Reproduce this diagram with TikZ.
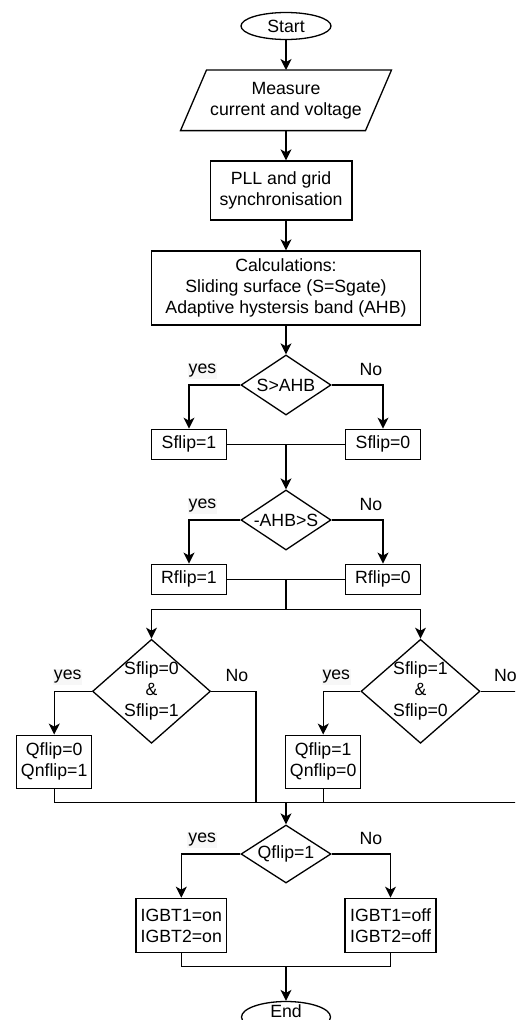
\documentclass[tikz,border=0pt]{standalone}
\usepackage{fontspec}
\setmainfont{Liberation Sans}
\usetikzlibrary{shapes.geometric,arrows.meta}

\begin{document}
\begin{tikzpicture}[x=1pt,y=-1pt,line width=1.3pt,
  font=\fontsize{17.7}{21}\selectfont,
  box/.style={draw, rectangle, inner sep=0pt, align=center},
  term/.style={draw, ellipse, inner sep=0pt, minimum width=90pt, minimum height=27pt},
  dia/.style={draw, diamond, inner sep=0pt},
  arr/.style={-{Stealth[length=11pt,width=11pt,inset=3pt]}},
  yeslbl/.style={fill=black!3, inner sep=1pt},
  nolbl/.style={inner sep=1pt}
]
\useasboundingbox (0,0) rectangle (515,1020);
\clip (0,0) rectangle (515,1020);

% main column
\node[term] (start) at (286,26) {Start};
\node[inner sep=0pt, minimum width=183.7pt, minimum height=59.3pt, align=center]
  (meas) at (286,100.3) {Measure\\current and voltage};
\draw ([xshift=-13pt]meas.south west) -- ([xshift=13pt]meas.north west)
   -- ([xshift=13pt]meas.north east) -- ([xshift=-13pt]meas.south east) -- cycle;
\node[box, minimum width=141.7pt, minimum height=59pt] (pll) at (281,190.5)
  {PLL and grid\\synchronisation};
\node[box, minimum width=269pt, minimum height=74pt] (calc) at (286,288)
  {Calculations:\\Sliding surface (S=Sgate)\\Adaptive hystersis band (AHB)};

% first decision
\node[dia, minimum width=90pt, minimum height=60pt, label=center:{S>AHB}] (d1) at (286,385) {};
\node[box, minimum width=75pt, minimum height=30pt] (sf1) at (189,444.3) {Sflip=1};
\node[box, minimum width=75pt, minimum height=30pt] (sf0) at (383,444.3) {Sflip=0};

% second decision
\node[dia, minimum width=90pt, minimum height=60pt, label=center:{-AHB>S}] (d2) at (286,520) {};
\node[box, minimum width=75pt, minimum height=30pt] (rf1) at (189,579.2) {Rflip=1};
\node[box, minimum width=75pt, minimum height=30pt] (rf0) at (383,579.2) {Rflip=0};

% flip-state decisions
\node[dia, minimum width=118pt, minimum height=104pt,
  label={[align=center]center:Sflip=0\\\&\\Sflip=1}] (d3) at (151.5,691.3) {};
\node[dia, minimum width=119pt, minimum height=104pt,
  label={[align=center]center:Sflip=1\\\&\\Sflip=0}] (d4) at (420.5,691.3) {};
\node[box, minimum width=75pt, minimum height=53pt] (q1) at (54.2,761.7) {Qflip=0\\Qnflip=1};
\node[box, minimum width=75pt, minimum height=53pt] (q2) at (323.2,761.7) {Qflip=1\\Qnflip=0};

% switching decision
\node[dia, minimum width=90pt, minimum height=58pt, label=center:{Qflip=1}] (d5) at (286,854) {};
\node[box, minimum width=90.7pt, minimum height=54.4pt] (on) at (181.3,925.5) {IGBT1=on\\IGBT2=on};
\node[box, minimum width=91pt, minimum height=54.4pt] (off) at (390.5,925.5) {IGBT1=off\\IGBT2=off};
\node[term, minimum width=89pt, minimum height=31pt,
  label={[yshift=6pt]center:End}] (end) at (286,1017) {};

% branch labels
\node[yeslbl] (y1) at (202.5,371) {yes};
\node[nolbl] (n1) at (371,369.5) {No};
\node[yeslbl] (y2) at (202.5,506) {yes};
\node[nolbl] (n2) at (371,504.5) {No};
\node[yeslbl] (y3) at (67.7,677) {yes};
\node[nolbl] (n3) at (237,675.5) {No};
\node[yeslbl] (y4) at (336.3,677) {yes};
\node[nolbl] (n4) at (505.5,675.5) {No};
\node[yeslbl] (y5) at (202.2,840) {yes};
\node[nolbl] (n5) at (371,838.3) {No};

% junction points
\coordinate (split) at (286,609.3);
\coordinate (jL) at (256,802.7);
\coordinate (join) at (286,802.7);
\coordinate (jR) at (530,802.7);
\coordinate (join2) at (286,966.7);

% connectors
\draw[arr] (start) -- (meas);
\draw[arr] (meas.south) -- (meas.south |- pll.north);
\draw[arr] (pll.south -| meas.south) -- (calc.north);
\draw[arr] (calc) -- (d1);
\draw[arr] (d1.west) -| (sf1.north);
\draw[arr] (d1.east) -| (sf0.north);
\draw (sf1.east) -- (sf0.west);
\draw[arr] (sf1.east -| d2.north) -- (d2.north);
\draw[arr] (d2.west) -| (rf1.north);
\draw[arr] (d2.east) -| (rf0.north);
\draw (rf1.east) -- (rf0.west);
\draw (rf1.east -| split) -- (split);
\draw[arr] (split) -| (d3.north);
\draw[arr] (split) -| (d4.north);
\draw[arr] (d3.west) -| (q1.north);
\draw[arr] (d4.west) -| (q2.north);
\draw (q1.south) |- (join);
\draw (d3.east) -| (jL);
\draw (q2.south) |- (join);
\draw (d4.east) -| (jR) -- (join);
\draw[arr] (join) -- (d5.north);
\draw[arr] (d5.west) -| (on.north);
\draw[arr] (d5.east) -| (off.north);
\draw (on.south) |- (join2) -| (off.south);
\draw[arr] (join2) -- (end);
\end{tikzpicture}
\end{document}
